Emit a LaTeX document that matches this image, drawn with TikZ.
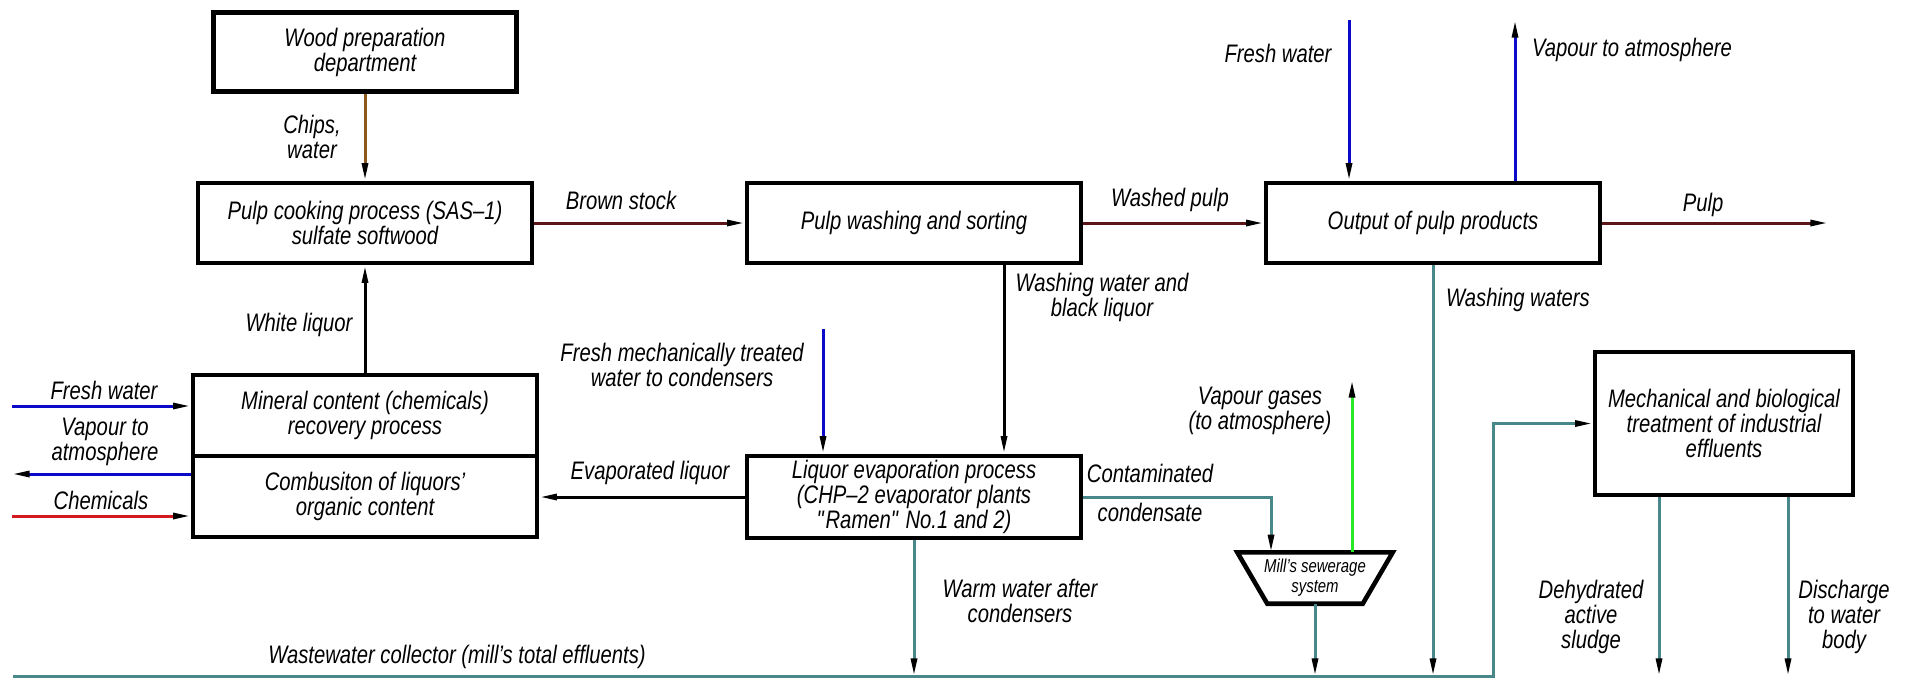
\documentclass[tikz,border=0pt]{standalone}
\usepackage{fontspec}
\setmainfont{Liberation Sans}[FakeStretch=0.8]
\usetikzlibrary{arrows.meta}
\definecolor{effluent}{RGB}{72,136,138}
\definecolor{pulpline}{RGB}{92,22,24}
\definecolor{chips}{RGB}{140,88,28}
\definecolor{freshwater}{RGB}{10,10,200}
\definecolor{chemline}{RGB}{212,24,32}
\definecolor{gasline}{RGB}{40,232,40}

\begin{document}
\begin{tikzpicture}[x=0.01cm, y=-0.01cm, font=\itshape\fontsize{7.2}{7.1}\selectfont]
        \useasboundingbox (0,0) rectangle (1913,678);
        \begin{scope}[every node/.style={draw, line width=1.3pt, align=center, inner sep=1pt}]
                \node[minimum width=3.03cm, minimum height=0.79cm] (Wood) at (365,52) {Wood preparation\\department};
                \node[minimum width=3.34cm, minimum height=0.8cm] (Cook) at (365,223) {Pulp cooking process (SAS--1)\\sulfate softwood};
                \node[minimum width=3.34cm, minimum height=0.8cm] (Wash) at (914,223) {Pulp washing and sorting};
                \node[minimum width=3.34cm, minimum height=0.8cm] (Output) at (1433,223) {Output of pulp products};
                \node[minimum width=3.44cm, minimum height=0.81cm] (Mineral) at (365,415.5) {Mineral content (chemicals)\\recovery process};
                \node[minimum width=3.44cm, minimum height=0.81cm] (Comb) at (365,496.5) {Combusiton of liquors'\\organic content};
                \node[minimum width=3.34cm, minimum height=0.82cm] (Evap) at (914,497) {Liquor evaporation process\\(CHP--2 evaporator plants\\\textquotedbl Ramen\textquotedbl\ No.1 and 2)};
                \node[minimum width=2.58cm, minimum height=1.43cm] (Treat) at (1724,423.5) {Mechanical and biological\\treatment of industrial\\effluents};
        \end{scope}
        \node[align=center, inner sep=0pt, minimum width=1.54cm, minimum height=0.5cm, font=\itshape\fontsize{5.3}{5.6}\selectfont] (Sewer) at (1315,578) {Mill's sewerage\\system};
        \draw[line width=1.3pt] (Sewer.north west) -- (Sewer.north east) -- ([xshift=-0.3cm]Sewer.south east) -- ([xshift=0.3cm]Sewer.south west) -- cycle;

        \coordinate (FWtop) at (1349,20);
        \coordinate (VAtop) at (1515,20);
        \coordinate (PulpEnd) at (1828,223);
        \coordinate (FWleft) at (12,406);
        \coordinate (VAleft) at (12,474);
        \coordinate (CHleft) at (12,516);
        \coordinate (FMW) at (823,329);
        \coordinate (BL) at (1004,0);
        \coordinate (CC) at (1271,0);
        \coordinate (VG) at (1352,380);
        \coordinate (ColStart) at (13,676);
        \coordinate (ColEnd) at (1493,676);
        \coordinate (DS) at (1659,676);
        \coordinate (DW) at (1788,676);

        \begin{scope}[every path/.style={line width=0.85pt, -{Triangle[black, length=5pt, width=1.7pt]}}]
                \path (Wood) edge[draw=chips] (Cook);
                \path (Mineral) edge (Cook);
                \path (Cook) edge[draw=pulpline] (Wash);
                \path (Wash) edge[draw=pulpline] (Output);
                \path (Output) edge[draw=pulpline] (PulpEnd);
                \path (FWleft) edge[draw=freshwater] (FWleft -| Mineral.west);
                \path (VAleft -| Comb.west) edge[draw=freshwater] (VAleft);
                \path (CHleft) edge[draw=chemline] (CHleft -| Comb.west);
                \path (Evap.west) edge (Evap.west -| Comb.east);
                \path (Wash.south -| BL) edge (Evap.north -| BL);
                \path (FMW) edge[draw=freshwater] (FMW |- Evap.north);
                \path (FWtop) edge[draw=freshwater] (FWtop |- Output.north);
                \path (Output.north -| VAtop) edge[draw=freshwater] (VAtop);
                \draw[effluent] (Evap.east) -| (CC |- Sewer.north);
                \path (Sewer.north -| VG) edge[draw=gasline] (VG);
                \path (Sewer.south) edge[draw=effluent] (Sewer.south |- ColEnd);
                \path (Evap.south) edge[draw=effluent] (Evap.south |- ColEnd);
                \path (Output.south) edge[draw=effluent] (Output.south |- ColEnd);
                \draw[effluent] (ColStart) -- (ColEnd) |- (Treat.west);
                \path (Treat.south -| DS) edge[draw=effluent] (DS);
                \path (Treat.south -| DW) edge[draw=effluent] (DW);
        \end{scope}

        \begin{scope}[every node/.style={align=center, inner sep=0pt}]
                \node (lChips) at (312,137) {Chips,\\water};
                \node (lBrown) at (621,200) {Brown stock};
                \node (lWashed) at (1170,200) {Washed pulp};
                \node (lPulp) at (1703,205) {Pulp};
                \node (lWhite) at (299,325) {White liquor};
                \node (lFWleft) at (104,390) {Fresh water};
                \node (lVAleft) at (105,442) {Vapour to\\atmosphere};
                \node (lChem) at (101,500) {Chemicals};
                \node (lEvap) at (650,473) {Evaporated liquor};
                \node (lFMW) at (682,365) {Fresh mechanically treated\\water to condensers};
                \node (lBlack) at (1102,297) {Washing water and\\black liquor};
                \node (lFWtop) at (1278,53) {Fresh water};
                \node (lVAtop) at (1632,50) {Vapour to atmosphere};
                \node (lWashing) at (1518,300) {Washing waters};
                \node (lCont) at (1150,473) {Contaminated};
                \node (lCond) at (1150,512) {condensate};
                \node (lGas) at (1260,411) {Vapour gases\\(to atmosphere)};
                \node (lWarm) at (1020,601) {Warm water after\\condensers};
                \node (lCollector) at (457,657) {Wastewater collector (mill's total effluents)};
                \node (lSludge) at (1591,617) {Dehydrated\\active\\sludge};
                \node (lDischarge) at (1844,617) {Discharge\\to water\\body};
        \end{scope}
\end{tikzpicture}
\end{document}
